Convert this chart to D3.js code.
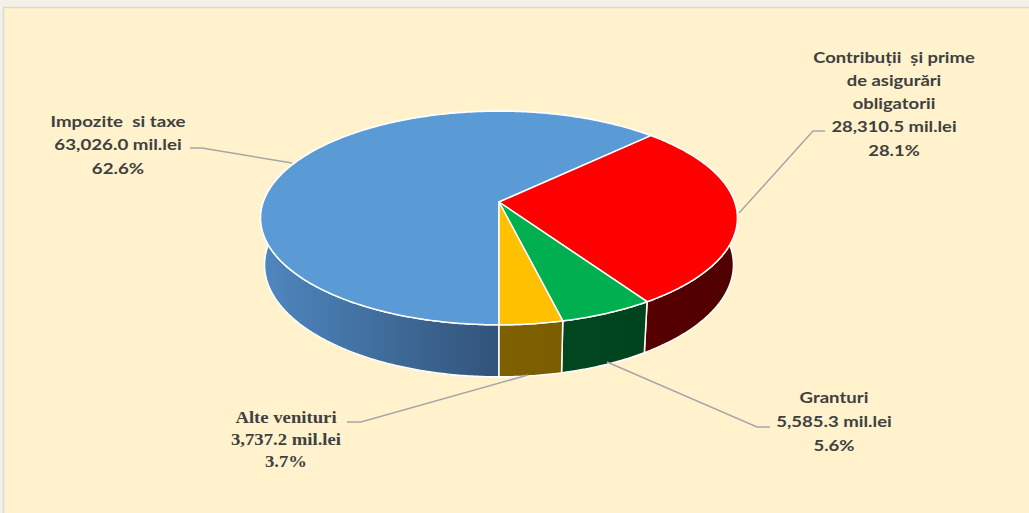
<!DOCTYPE html>
<html>
<head>
<meta charset="utf-8">
<script src="https://cdn.jsdelivr.net/npm/d3@7"></script>
<style>
  body { margin: 0; background: #f4f0e8; }
  svg { display: block; }
</style>
</head>
<body>
<div id="chart"></div>
<script>
// data
var categories = ["Impozite  si taxe", "Contribuții  și prime de asigurări obligatorii", "Granturi", "Alte venituri"];
var values = [63026.0, 28310.5, 5585.3, 3737.2];
var percents = ["62.6%", "28.1%", "5.6%", "3.7%"];
var labelLines = [
  ["Impozite  si taxe"],
  ["Contribuții  și prime", "de asigurări", "obligatorii"],
  ["Granturi"],
  ["Alte venituri"]
];

var width = 1029, height = 513;

var svg = d3.select("#chart")
  .append("svg")
  .attr("width", width)
  .attr("height", height);

// panel
svg.append("rect")
  .attr("x", 3.5).attr("y", 7.5)
  .attr("width", width + 10).attr("height", height + 10)
  .attr("fill", "#fff2cc")
  .attr("stroke", "#d9d9d9")
  .attr("stroke-width", 1.5);

// colours
var topColor = ["#5b9bd5", "#ff0000", "#00b050", "#ffc000"];
var sideFrom = ["#4f88c0", "#600000", "#004a20", "#7f6000"];
var sideTo = ["#32537a", "#500000", "#003f1a", "#715200"];

// simple perspective projection of a disc
var cx = 499, cy = 202;
var f = 1412, D = 5.99, elev = 26.3 * Math.PI / 180, depth = 0.223;
function proj(phi, r, yy) {
  var x = r * Math.sin(phi), z = -r * Math.cos(phi);
  var yc = -z * Math.sin(elev) + yy * Math.cos(elev);
  var d = D - z * Math.cos(elev) - yy * Math.sin(elev);
  return [cx + f * x / d, cy - f * yc / d];
}

var pie = d3.pie().sort(null).value(function(d) { return d; })
  .startAngle(Math.PI).endAngle(3 * Math.PI);
var arcs = pie(values);

function arcPoints(a0, a1, yy) {
  var n = Math.max(2, Math.ceil((a1 - a0) / 0.01));
  return d3.range(n + 1).map(function(i) { return proj(a0 + (a1 - a0) * i / n, 1, yy); });
}
var line = d3.line().curve(d3.curveLinear);

var defs = svg.append("defs");
arcs.forEach(function(a, i) {
  var g = defs.append("linearGradient")
    .attr("id", "side" + i)
    .attr("gradientUnits", "userSpaceOnUse")
    .attr("x1", i === 0 ? 258 : 499).attr("x2", i === 0 ? 499 : 740)
    .attr("y1", 0).attr("y2", 0);
  g.append("stop").attr("offset", "0%").attr("stop-color", sideFrom[i]);
  g.append("stop").attr("offset", "100%").attr("stop-color", sideTo[i]);
});

// sides
svg.append("g").selectAll("path")
  .data(arcs)
  .enter().append("path")
  .attr("d", function(a) {
    var top = arcPoints(a.startAngle, a.endAngle, 0);
    var bot = arcPoints(a.startAngle, a.endAngle, -depth).reverse();
    return line(top.concat(bot)) + "Z";
  })
  .attr("fill", function(a, i) { return "url(#side" + i + ")"; })
  .attr("stroke", "#ffffff")
  .attr("stroke-width", 1.5)
  .attr("stroke-linejoin", "round");

// tops
svg.append("g").selectAll("path")
  .data(arcs)
  .enter().append("path")
  .attr("d", function(a) {
    var pts = [proj(0, 0, 0)].concat(arcPoints(a.startAngle, a.endAngle, 0));
    return line(pts) + "Z";
  })
  .attr("fill", function(a, i) { return topColor[i]; })
  .attr("stroke", "#ffffff")
  .attr("stroke-width", 1.5)
  .attr("stroke-linejoin", "round");

// leader lines
var leaders = [
  [[292, 163], [202, 148], [190, 148]],
  [[739, 213], [813, 131], [825, 131]],
  [[607, 362], [757, 427], [770, 427]],
  [[528, 375], [361, 422], [347, 422]]
];
svg.append("g").selectAll("path")
  .data(leaders)
  .enter().append("path")
  .attr("d", function(d) { return line(d); })
  .attr("fill", "none")
  .attr("stroke", "#a6a6a6")
  .attr("stroke-width", 1.5);

// labels (text in the original is a bit wide, so stretch horizontally)
var fmt = d3.format(",.1f");
var labelPos = [
  {x: 118, y: 121, step: 23.5, sx: 1.17, font: "Lato, 'Open Sans', sans-serif"},
  {x: 894, y: 57, step: 23.3, sx: 1.15, font: "Lato, 'Open Sans', sans-serif"},
  {x: 834, y: 397, step: 24, sx: 1.16, font: "Lato, 'Open Sans', sans-serif"},
  {x: 286, y: 417, step: 22, sx: 1.1, font: "'Liberation Serif', 'Times New Roman', serif"}
];
arcs.forEach(function(a, i) {
  var lines = labelLines[i].concat([fmt(values[i]) + " mil.lei", percents[i]]);
  var p = labelPos[i];
  var t = svg.append("g")
    .attr("transform", "translate(" + p.x + ",0) scale(" + p.sx + ",1)")
    .append("text")
    .attr("text-anchor", "middle")
    .attr("font-family", p.font)
    .attr("font-weight", "bold")
    .attr("font-size", i === 3 ? 17 : 16)
    .attr("fill", "#404040");
  lines.forEach(function(s, k) {
    t.append("tspan")
      .attr("x", 0)
      .attr("y", p.y + k * p.step)
      .attr("dy", "0.35em")
      .style("white-space", "pre")
      .text(s);
  });
});
</script>
</body>
</html>
